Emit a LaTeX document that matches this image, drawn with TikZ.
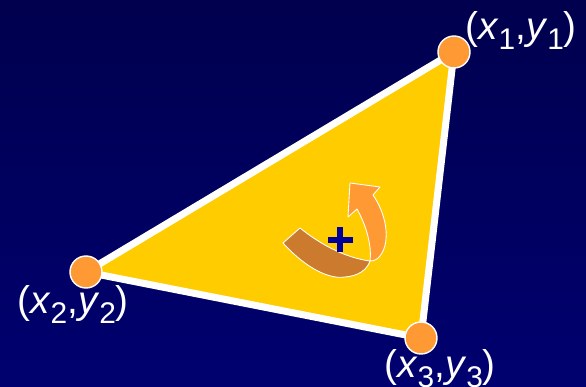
\documentclass[tikz,border=0pt]{standalone}
\usepackage{fontspec}
\setmainfont{Liberation Sans}
\usetikzlibrary{calc}
\definecolor{navytop}{HTML}{00004E}
\definecolor{navybot}{HTML}{000070}
\definecolor{gold}{HTML}{FFCC00}
\definecolor{tangerine}{HTML}{FF9933}
\definecolor{rust}{HTML}{CC7A2E}
\definecolor{plusblue}{HTML}{000099}
\newcommand{\lowidx}[1]{\raisebox{-6pt}{\fontsize{17}{19}\selectfont #1}}

\begin{document}
\begin{tikzpicture}[
      x=0.2mm, y=-0.2mm,
      vtx/.style={circle, draw=white, line width=0.8pt, fill=tangerine, minimum size=6.4mm, inner sep=0pt},
      lab/.style={text=white, font=\fontsize{22}{26}\selectfont, inner sep=0pt, anchor=base west},
      band/.style={draw=white, line width=0.5pt, line join=round}
    ]
    \shade[top color=navytop, bottom color=navybot] (0,0) rectangle (586,387);
    \useasboundingbox (0,0) rectangle (586,387);
    % labels sit behind the corners
    \node[lab] (lab1) at (465,39) {(\textit{x}\lowidx{1},\textit{y}\lowidx{1})};
    \node[lab] (lab2) at (17,313) {(\textit{x}\lowidx{2},\textit{y}\lowidx{2})};
    \node[lab] (lab3) at (384,377) {(\textit{x}\lowidx{3},\textit{y}\lowidx{3})};
    \coordinate (p1) at (454,52);
    \coordinate (p2) at (86,272);
    \coordinate (p3) at (421,338);
    \filldraw[fill=gold, draw=white, line width=4pt, line join=round] (p1) -- (p2) -- (p3) -- cycle;
    % rotation arrow: tail then front
    \filldraw[band, fill=rust] (300,228) -- (283,243)
      .. controls (300,262) and (325,280) .. (345,277)
      .. controls (358,276) and (367,270) .. (370,261)
      .. controls (355,259) and (330,252) .. (300,228) -- cycle;
    \filldraw[band, fill=tangerine] (370,261)
      .. controls (372,245) and (366,225) .. (357,209)
      -- (348,217) -- (350,183) -- (380,187) -- (373,195)
      .. controls (385,212) and (392,240) .. (380,256)
      .. controls (377,260) and (373,261) .. (370,261) -- cycle;
    \draw[plusblue, line width=3.6pt] (328,240) -- (353,240) (340,227) -- (340,252);
    \node[vtx] (v1) at (p1) {};
    \node[vtx] (v2) at (p2) {};
    \node[vtx] (v3) at (p3) {};
  \end{tikzpicture}
\end{document}
